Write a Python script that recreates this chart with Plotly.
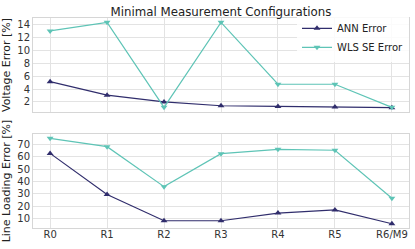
import plotly.graph_objects as go
from plotly.subplots import make_subplots

categories = ["R0", "R1", "R2", "R3", "R4", "R5", "R6/M9"]
ann_voltage = [5.15, 3.05, 2.0, 1.4, 1.3, 1.2, 1.1]
wls_voltage = [13.07, 14.4, 1.15, 14.4, 4.75, 4.75, 1.15]
ann_loading = [62.7, 29.5, 8.4, 8.4, 14.6, 17.1, 6.0]
wls_loading = [74.8, 68.1, 35.9, 62.5, 66.0, 65.2, 26.6]

ANN_COLOR = "#302d6c"
WLS_COLOR = "#5ec4b6"
FONT = "DejaVu Sans"

x = list(range(len(categories)))

fig = make_subplots(rows=2, cols=1, shared_xaxes=False, vertical_spacing=0.105)

def add(row, yvals, name, color, symbol, show):
    fig.add_trace(go.Scatter(
        x=x, y=yvals, mode="lines+markers", name=name,
        line=dict(color=color, width=1.2),
        marker=dict(symbol=symbol, size=6, color=color),
        showlegend=show, legendgroup=name), row=row, col=1)

add(1, ann_voltage, "ANN Error", ANN_COLOR, "triangle-up", True)
add(1, wls_voltage, "WLS SE Error", WLS_COLOR, "triangle-down", True)
add(2, ann_loading, "ANN Error", ANN_COLOR, "triangle-up", False)
add(2, wls_loading, "WLS SE Error", WLS_COLOR, "triangle-down", False)

axis_common = dict(showgrid=True, gridcolor="#e3e3e3", gridwidth=1,
                   showline=True, linecolor="#d6d6d6", linewidth=1, mirror=True,
                   zeroline=False, ticks="", automargin=False,
                   tickfont=dict(size=10, color="#333333", family=FONT))

fig.update_xaxes(**axis_common, range=[-0.3, 6.3], tickmode="array", tickvals=x)
fig.update_xaxes(showticklabels=False, row=1, col=1)
fig.update_xaxes(ticktext=categories, ticklabelstandoff=-3, row=2, col=1)
fig.update_yaxes(**axis_common)
fig.update_yaxes(range=[0.43, 15.08], tickvals=[2, 4, 6, 8, 10, 12, 14],
                 title=dict(text="Voltage Error [%]", font=dict(size=11, color="#222222", family=FONT), standoff=5),
                 row=1, col=1)
fig.update_yaxes(range=[2.56, 78.3], tickvals=[10, 20, 30, 40, 50, 60, 70],
                 title=dict(text="Line Loading Error [%]", font=dict(size=11, color="#222222", family=FONT), standoff=5),
                 row=2, col=1)

fig.update_layout(
    width=415, height=249,
    margin=dict(l=33, r=6, t=18, b=21, autoexpand=False),
    paper_bgcolor="white", plot_bgcolor="white",
    font=dict(family=FONT, color="#222222"),
    title=dict(text="Minimal Measurement Configurations", x=221/415, xanchor="center",
               yref="container", y=1 - 11.5/249, yanchor="middle",
               font=dict(size=11.8, color="#222222", family=FONT)),
    legend=dict(x=1.0, y=1.02, xanchor="right", yanchor="top",
                bgcolor="rgba(255,255,255,0.85)", borderwidth=0,
                font=dict(size=10, color="#222222", family=FONT),
                tracegroupgap=0, itemwidth=30),
)

fig.write_html("out.html", config={"displayModeBar": False},
               post_script="document.body.style.margin='0';document.body.style.overflow='hidden';")
